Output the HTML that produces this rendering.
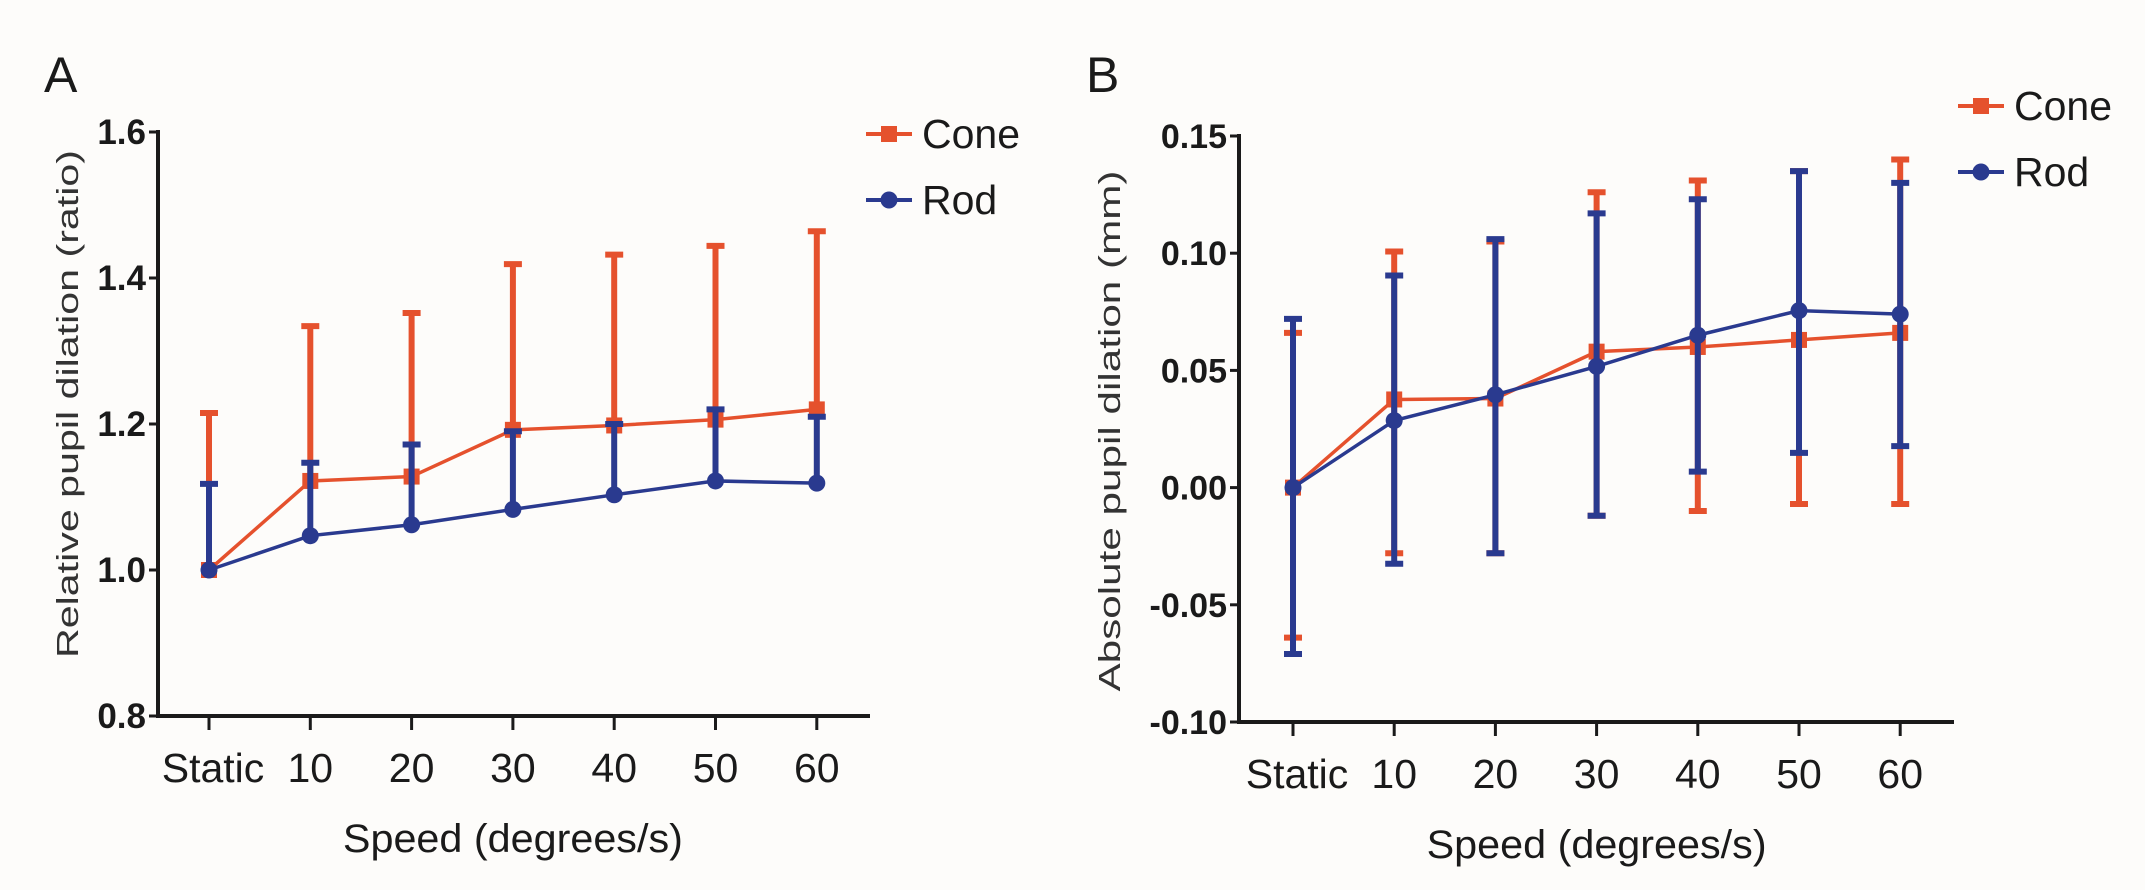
<!DOCTYPE html>
<html><head><meta charset="utf-8">
<style>
html,body{margin:0;padding:0;background:#fdfcfa;}
svg{display:block;font-family:"Liberation Sans",Arial,sans-serif;}
</style></head>
<body>
<svg id="fig" width="2145" height="890" viewBox="0 0 2145 890" xmlns="http://www.w3.org/2000/svg">
<rect width="2145" height="890" fill="#fdfcfa"/>
</svg>
<script>
const categories = ["Static","10","20","30","40","50","60"];
// Panel A
const aConeMean = [1.0,1.122,1.128,1.192,1.198,1.206,1.22];
const aConeUp   = [1.215,1.334,1.352,1.419,1.432,1.444,1.464];
const aRodMean  = [1.0,1.047,1.062,1.083,1.103,1.122,1.119];
const aRodUp    = [1.118,1.147,1.172,1.19,1.2,1.22,1.21];
const aTicks = [0.8,1.0,1.2,1.4,1.6];
const aTickLabels = ["0.8","1.0","1.2","1.4","1.6"];
// Panel B
const bConeMean = [0,0.0376,0.038,0.058,0.06,0.063,0.066];
const bConeUp   = [0.066,0.1007,0.105,0.126,0.131,0.135,0.14];
const bConeLo   = [-0.064,-0.028,-0.028,-0.012,-0.010,-0.007,-0.007];
const bRodMean  = [0,0.0286,0.0396,0.0517,0.065,0.0755,0.074];
const bRodUp    = [0.072,0.0905,0.106,0.117,0.123,0.135,0.130];
const bRodLo    = [-0.071,-0.0325,-0.028,-0.012,0.0068,0.0148,0.0177];
const bTicks = [-0.10,-0.05,0,0.05,0.10,0.15];
const bTickLabels = ["-0.10","-0.05","0.00","0.05","0.10","0.15"];

const NS="http://www.w3.org/2000/svg";
const svg=document.getElementById('fig');
const ORANGE="#e5512d", BLUE="#2a3a8f", INK="#1a1a1a";
function mk(tag,attrs,parent){const e=document.createElementNS(NS,tag);for(const k in attrs)e.setAttribute(k,attrs[k]);(parent||svg).appendChild(e);return e;}

function panel(cfg){
  const g=mk('g',{});
  
  
  const y=v=>cfg.y0+(v-cfg.vmin)/(cfg.vmax-cfg.vmin)*(cfg.y1-cfg.y0);
  const x=i=>cfg.xs+i*cfg.dx;
  // letter
  const L=mk('text',{x:cfg.letterX,y:92,'font-size':50,fill:INK},g);L.textContent=cfg.letter;
  
  
  // axes
  const ya=mk('line',{x1:cfg.ax,y1:y(cfg.vmax)-2,x2:cfg.ax,y2:y(cfg.vmin)+2,stroke:INK,'stroke-width':4},g);
  
  
  const xa=mk('line',{x1:cfg.ax-2,y1:y(cfg.vmin),x2:cfg.axEnd,y2:y(cfg.vmin),stroke:INK,'stroke-width':4},g);
  
  
  cfg.ticks.forEach((t,i)=>{
    const tk=mk('line',{x1:cfg.ax-9,y1:y(t),x2:cfg.ax,y2:y(t),stroke:INK,'stroke-width':3},g);
    
    
    const tl=mk('text',{x:cfg.ax-12,y:y(t)+12,'font-size':cfg.tfs,'font-weight':'bold','text-anchor':'end',fill:INK},g);
    tl.textContent=cfg.tickLabels[i];
    
    
  });
  categories.forEach((c,i)=>{
    const tk=mk('line',{x1:x(i),y1:y(cfg.vmin),x2:x(i),y2:y(cfg.vmin)+14,stroke:INK,'stroke-width':3},g);
    
    
    const tl=mk('text',{x:x(i)+(i==0?4:0),y:y(cfg.vmin)+66,'font-size':41,'text-anchor':'middle',fill:INK},g);
    tl.textContent=c;
    
    
  });
  const xt=mk('text',{x:(x(0)+x(6))/2,y:y(cfg.vmin)+136,'font-size':40,'text-anchor':'middle',fill:INK,textLength:340,lengthAdjust:'spacingAndGlyphs'},g);
  xt.textContent="Speed (degrees/s)";
  
  
  const yt=mk('text',{x:0,y:0,'font-size':31,'text-anchor':'middle',fill:"#333",transform:`translate(${cfg.ylx},${cfg.yly}) rotate(-90)`,textLength:cfg.ylLen,lengthAdjust:'spacingAndGlyphs'},g);
  yt.textContent=cfg.ylabel;
  
  
  function series(mean,up,lo,color,shape,nm){
    const sg=mk('g',{},g);
    
    
    mean.forEach((m,i)=>{
      const segs=[[m,up[i]]]; if(lo) segs.push([m,lo[i]]);
      segs.forEach(s=>{
        const e=mk('line',{x1:x(i),y1:y(s[0]),x2:x(i),y2:y(s[1]),stroke:color,'stroke-width':6},sg);
        
        
        const cp=mk('line',{x1:x(i)-9,y1:y(s[1]),x2:x(i)+9,y2:y(s[1]),stroke:color,'stroke-width':6},sg);
        
        
      });
    });
    const pl=mk('polyline',{points:mean.map((m,i)=>x(i)+','+y(m)).join(' '),fill:'none',stroke:color,'stroke-width':3.5},sg);
    
    
    mean.forEach((m,i)=>{
      let p;
      if(shape=='sq') p=mk('rect',{x:x(i)-8,y:y(m)-8,width:16,height:16,fill:color},sg);
      else p=mk('circle',{cx:x(i),cy:y(m),r:8.5,fill:color},sg);
      
      
    });
  }
  series(cfg.coneMean,cfg.coneUp,cfg.coneLo,ORANGE,'sq','cone');
  series(cfg.rodMean,cfg.rodUp,cfg.rodLo,BLUE,'ci','rod');
  // legend
  [["Cone",ORANGE,'sq',cfg.legY],["Rod",BLUE,'ci',cfg.legY+66]].forEach(l=>{
    const lg=mk('g',{},g);
    
    
    mk('line',{x1:cfg.legX,y1:l[3],x2:cfg.legX+46,y2:l[3],stroke:l[1],'stroke-width':4},lg);
    const c=cfg.legX+23;
    if(l[2]=='sq') mk('rect',{x:c-8,y:l[3]-8,width:16,height:16,fill:l[1]},lg);
    else mk('circle',{cx:c,cy:l[3],r:8.5,fill:l[1]},lg);
    const t=mk('text',{x:cfg.legX+56,y:l[3]+14,'font-size':41,fill:INK},lg);
    t.textContent=l[0];
  });
}
panel({name:'panel-a',letter:'A',letterX:44,ax:158,axEnd:870,xs:209,dx:101.3,y0:716,y1:132,vmin:0.8,vmax:1.6,
  ticks:aTicks,tickLabels:aTickLabels,tfs:35,ylabel:"Relative pupil dilation (ratio)",ylx:78,yly:404,ylLen:508,
  coneMean:aConeMean,coneUp:aConeUp,coneLo:null,rodMean:aRodMean,rodUp:aRodUp,rodLo:null,legX:866,legY:134});
panel({name:'panel-b',letter:'B',letterX:1086,ax:1239,axEnd:1954,xs:1293,dx:101.2,y0:722,y1:136,vmin:-0.10,vmax:0.15,
  ticks:bTicks,tickLabels:bTickLabels,tfs:34,ylabel:"Absolute pupil dilation (mm)",ylx:1120,yly:431,ylLen:521,
  coneMean:bConeMean,coneUp:bConeUp,coneLo:bConeLo,rodMean:bRodMean,rodUp:bRodUp,rodLo:bRodLo,legX:1958,legY:106});
</script>
</body></html>
